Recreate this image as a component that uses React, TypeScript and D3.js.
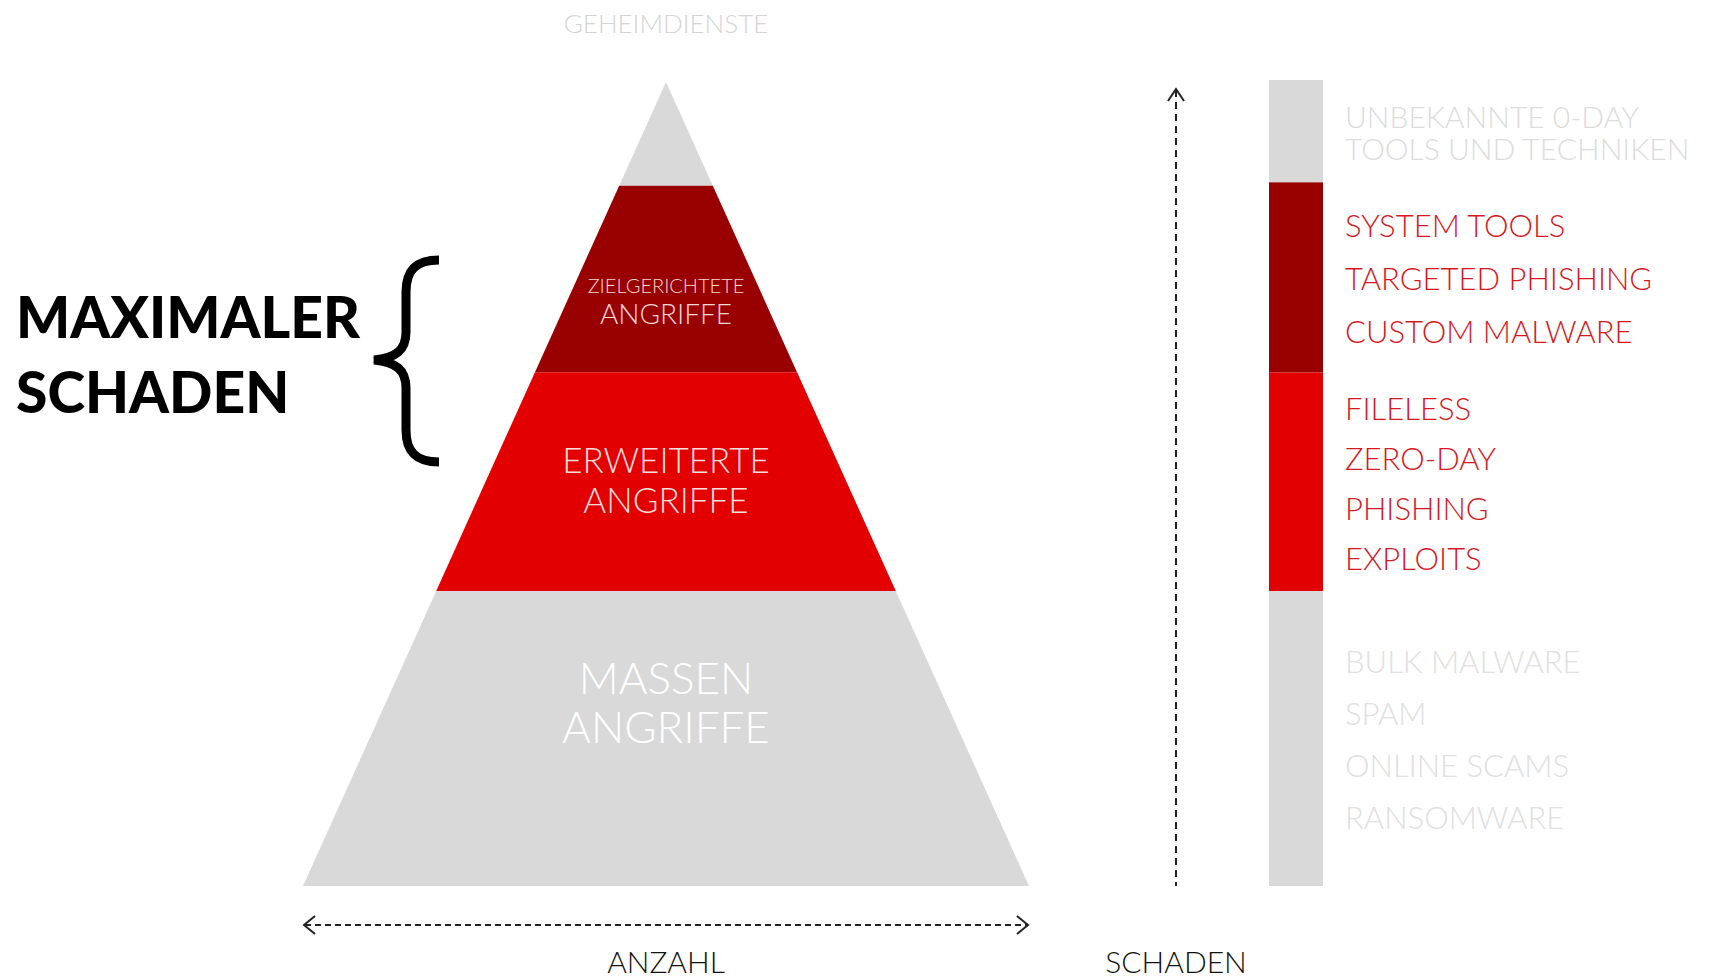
import React, { useRef, useEffect } from 'react';
import * as d3 from 'd3';

// pyramid tiers, top to bottom (fraction of the height from the apex)
const tierNames = ['GEHEIMDIENSTE', 'ZIELGERICHTETE ANGRIFFE', 'ERWEITERTE ANGRIFFE', 'MASSEN ANGRIFFE'];
const tierStops = [0, 0.129, 0.361, 0.633, 1];
const tierColors = ['#d9d9d9', '#990000', '#e30000', '#d9d9d9'];

// side bar: tools and techniques per tier
const barStops = [0, 0.127, 0.363, 0.634, 1];
const techTop = ['UNBEKANNTE 0-DAY', 'TOOLS UND TECHNIKEN'];
const techTargeted = ['SYSTEM TOOLS', 'TARGETED PHISHING', 'CUSTOM MALWARE'];
const techAdvanced = ['FILELESS', 'ZERO-DAY', 'PHISHING', 'EXPLOITS'];
const techMass = ['BULK MALWARE', 'SPAM', 'ONLINE SCAMS', 'RANSOMWARE'];

const FONT = "Lato, 'Open Sans', sans-serif";

const App = () => {
    const svgRef = useRef(null);

    useEffect(() => {
        const svg = d3.select(svgRef.current);
        svg.selectAll('*').remove();
        const width = 1711;
        const height = 977;
        svg.attr('viewBox', [0, 0, width, height]).attr('width', width).attr('height', height);

        const cx = 666;
        const y = d3.scaleLinear().domain([0, 1]).range([82, 886]);
        const hw = d3.scaleLinear().domain([0, 1]).range([0, 363]);
        const line = d3.line();

        // pyramid
        const tiers = tierNames.map((name, i) => ({ name, t0: tierStops[i], t1: tierStops[i + 1], color: tierColors[i] }));
        svg.append('g')
            .selectAll('path')
            .data(tiers)
            .join('path')
            .attr('fill', d => d.color)
            .attr('d', d => line([
                [cx - hw(d.t0), y(d.t0)], [cx + hw(d.t0), y(d.t0)],
                [cx + hw(d.t1), y(d.t1)], [cx - hw(d.t1), y(d.t1)]
            ]) + 'Z');

        // top label above apex
        svg.append('text')
            .attr('x', cx).attr('y', 24).attr('dy', '0.35em')
            .attr('text-anchor', 'middle')
            .attr('font-family', FONT).attr('font-weight', 300).attr('font-size', 26)
            .attr('fill', '#d4d4d4')
            .text(tierNames[0]);

        // labels inside pyramid
        const inner = [
            { tier: 1, lines: [['ZIELGERICHTETE', 20, -14], ['ANGRIFFE', 28, 14]], fill: '#f3d6d6' },
            { tier: 2, lines: [['ERWEITERTE', 35, -20], ['ANGRIFFE', 35, 20]], fill: '#f6dede' },
            { tier: 3, lines: [['MASSEN', 44, -25], ['ANGRIFFE', 44, 24]], fill: '#ffffff' }
        ];
        const centers = [0, 300, 481, 704];
        inner.forEach(g => {
            g.lines.forEach(([txt, size, off]) => {
                svg.append('text')
                    .attr('x', cx).attr('y', centers[g.tier] + off).attr('dy', '0.35em')
                    .attr('text-anchor', 'middle')
                    .attr('font-family', FONT).attr('font-weight', 300).attr('font-size', size)
                    .attr('fill', g.fill)
                    .text(txt);
            });
        });

        // brace + heading
        svg.append('path')
            .attr('fill', 'none').attr('stroke', '#000').attr('stroke-width', 9)
            .attr('stroke-linecap', 'butt')
            .attr('d', 'M 439 260 C 416 260, 406 270, 406 292 L 406 332 C 406 350, 396 358, 374 360 C 396 362, 406 370, 406 388 L 406 430 C 406 452, 416 462, 439 462');
        [['MAXIMALER', 318], ['SCHADEN', 393]].forEach(([t, yy]) => {
            svg.append('text')
                .attr('x', 16).attr('y', yy).attr('dy', '0.35em')
                .attr('font-family', FONT).attr('font-weight', 900).attr('font-size', 57)
                .attr('fill', '#000')
                .text(t);
        });

        // horizontal arrow (Anzahl)
        const axisG = svg.append('g').attr('stroke', '#222').attr('fill', 'none').attr('stroke-width', 2);
        axisG.append('line').attr('x1', 305).attr('x2', 1027).attr('y1', 925).attr('y2', 925).attr('stroke-dasharray', '6 4');
        axisG.append('path').attr('d', 'M 315 916 L 304 925 L 315 934');
        axisG.append('path').attr('d', 'M 1017 916 L 1028 925 L 1017 934');
        // vertical arrow (Schaden)
        axisG.append('line').attr('x1', 1176).attr('x2', 1176).attr('y1', 90).attr('y2', 886).attr('stroke-dasharray', '7 5');
        axisG.append('path').attr('d', 'M 1168 101 L 1176 89 L 1184 101');

        [['ANZAHL', cx], ['SCHADEN', 1176]].forEach(([t, xx]) => {
            svg.append('text')
                .attr('x', xx).attr('y', 962).attr('dy', '0.35em')
                .attr('text-anchor', 'middle')
                .attr('font-family', FONT).attr('font-weight', 300).attr('font-size', 30)
                .attr('fill', '#111')
                .text(t);
        });

        // side bar
        const yb = d3.scaleLinear().domain([0, 1]).range([80, 886]);
        const groups = [
            { items: techTop, color: '#d9d9d9', text: '#dcdcdc', step: 32, size: 30, wrap: true },
            { items: techTargeted, color: '#990000', text: '#d7191f', step: 53, size: 31 },
            { items: techAdvanced, color: '#e30000', text: '#d7191f', step: 50, size: 31 },
            { items: techMass, color: '#d9d9d9', text: '#e0e0e0', step: 52, size: 31 }
        ].map((g, i) => ({ ...g, t0: barStops[i], t1: barStops[i + 1] }));

        svg.append('g')
            .selectAll('rect')
            .data(groups)
            .join('rect')
            .attr('x', 1269).attr('width', 54)
            .attr('y', d => yb(d.t0))
            .attr('height', d => yb(d.t1) - yb(d.t0))
            .attr('fill', d => d.color);

        groups.forEach(g => {
            const mid = (yb(g.t0) + yb(g.t1)) / 2;
            const n = g.items.length;
            if (g.wrap) {
                // one wrapped label over two lines
                const t = svg.append('text')
                    .attr('font-family', FONT).attr('font-weight', 300).attr('font-size', g.size)
                    .attr('fill', g.text);
                t.selectAll('tspan')
                    .data(g.items)
                    .join('tspan')
                    .attr('x', 1345)
                    .attr('y', (d, i) => mid + (i - (n - 1) / 2) * g.step + 2)
                    .attr('dy', '0.35em')
                    .text(d => d);
                return;
            }
            svg.append('g')
                .selectAll('text')
                .data(g.items)
                .join('text')
                .attr('x', 1345)
                .attr('y', (d, i) => mid + (i - (n - 1) / 2) * g.step + 2)
                .attr('dy', '0.35em')
                .attr('font-family', FONT).attr('font-weight', 300).attr('font-size', g.size)
                .attr('fill', g.text)
                .text(d => d);
        });
    }, []);

    return <svg ref={svgRef} style={{ position: 'absolute', left: 0, top: 0, background: '#fff' }}></svg>;
};

export default App;
